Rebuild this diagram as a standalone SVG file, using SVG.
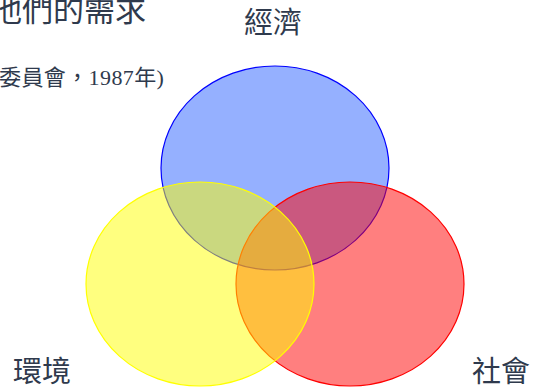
<svg xmlns="http://www.w3.org/2000/svg" width="537" height="390" viewBox="0 0 537 390">
<style>
.t{font-family:"Liberation Serif","Noto Sans CJK TC",serif;fill:#2f3a4d}
.c{stroke-width:1.2}
</style>
<rect width="537" height="390" fill="#ffffff"/>
<g id="heading">
<text class="t" x="-9" y="21" font-size="31">他們的需求</text>
<text class="t" x="-1" y="85" font-size="22" letter-spacing="0.4">委員會，1987年)</text>
</g>
<g id="economy">
<ellipse class="c" cx="275" cy="168" rx="114" ry="102" fill="#2b61ff" fill-opacity="0.5" stroke="#0000ff"/>
<text class="t" x="273" y="33" font-size="29" text-anchor="middle">經濟</text>
</g>
<g id="society">
<ellipse class="c" cx="350" cy="284" rx="114" ry="102" fill="#ff0000" fill-opacity="0.5" stroke="#ff0000"/>
<text class="t" x="472" y="382" font-size="29">社會</text>
</g>
<g id="environment">
<ellipse class="c" cx="200" cy="284" rx="114" ry="102" fill="#ffff00" fill-opacity="0.5" stroke="#ffff00"/>
<text class="t" x="13" y="382" font-size="29">環境</text>
</g>
<g id="connectors"></g>
</svg>
